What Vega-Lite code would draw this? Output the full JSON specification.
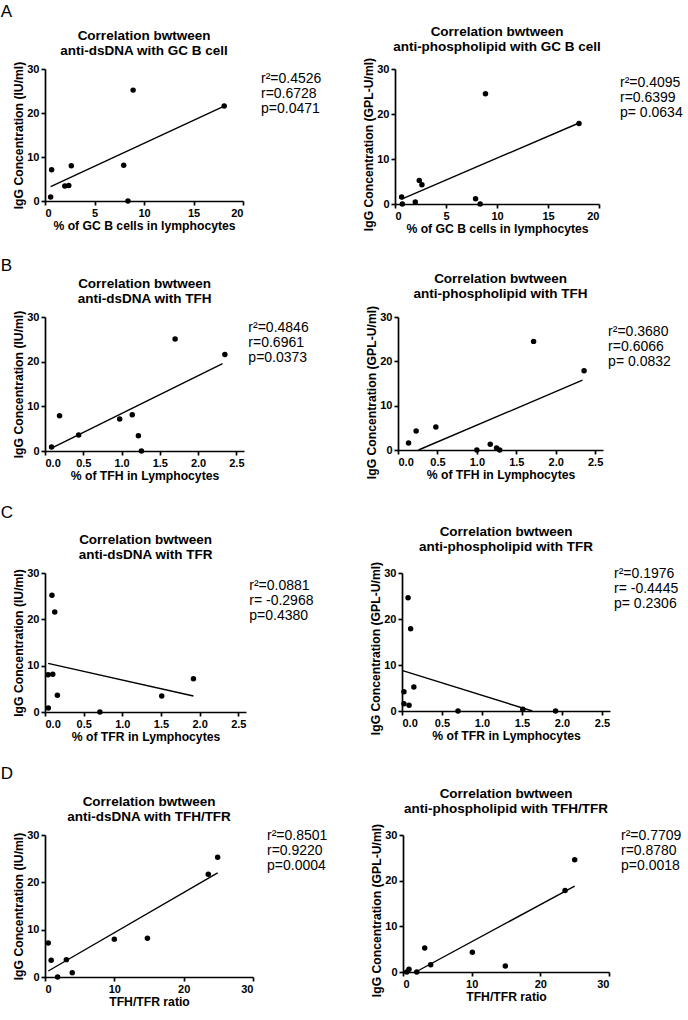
{
  "$schema": "https://vega.github.io/schema/vega-lite/v6.json",
  "padding": {"left": 0, "top": 2, "right": 0, "bottom": 0},
  "spacing": 22,
  "config": {
    "font": "Liberation Sans",
    "view": {"stroke": null},
    "axis": {"grid": false, "labelOverlap": false, "tickCount": 12, "domainColor": "black", "domainWidth": 1.7, "tickColor": "black", "tickWidth": 1.7, "tickSize": 4, "labelFont": "Liberation Sans", "labelFontSize": 11, "labelFontWeight": "bold", "labelColor": "black", "labelPadding": 2, "titleFont": "Liberation Sans", "titleFontSize": 12.2, "titleFontWeight": "bold", "titleColor": "black", "titlePadding": 1},
    "title": {"font": "Liberation Sans", "fontSize": 13.5, "fontWeight": "bold", "color": "black", "lineHeight": 15, "offset": 8, "frame": "group"},
    "text": {"font": "Liberation Sans", "fontSize": 14, "color": "black", "align": "left", "baseline": "top", "lineBreak": "\n", "lineHeight": 15},
    "circle": {"color": "black", "opacity": 1, "size": 30},
    "line": {"color": "black", "strokeWidth": 1.4}
  },
  "datasets": {
    "a1": [{"x": 0.57, "y": 0.9}, {"x": 0.67, "y": 7.1}, {"x": 2.0, "y": 3.4}, {"x": 2.4, "y": 3.5}, {"x": 2.66, "y": 8.0}, {"x": 7.95, "y": 8.15}, {"x": 8.38, "y": 0}, {"x": 8.9, "y": 25.2}, {"x": 18.1, "y": 21.6}],
    "a1l": [{"x": 0.57, "y": 3.27}, {"x": 18.1, "y": 21.55}],
    "a2": [{"x": 0.65, "y": 1.55}, {"x": 0.72, "y": 0}, {"x": 1.99, "y": 0.44}, {"x": 2.38, "y": 5.25}, {"x": 2.64, "y": 4.29}, {"x": 7.9, "y": 1.18}, {"x": 8.35, "y": 0}, {"x": 8.87, "y": 24.5}, {"x": 18.04, "y": 17.9}],
    "a2l": [{"x": 0.65, "y": 1.1}, {"x": 18.04, "y": 18.0}],
    "b1": [{"x": 0.086, "y": 0.9}, {"x": 0.19, "y": 7.9}, {"x": 0.44, "y": 3.6}, {"x": 0.976, "y": 7.16}, {"x": 1.14, "y": 8.13}, {"x": 1.22, "y": 3.43}, {"x": 1.26, "y": 0}, {"x": 1.7, "y": 25.1}, {"x": 2.35, "y": 21.6}],
    "b1l": [{"x": 0.086, "y": 0.67}, {"x": 2.32, "y": 19.55}],
    "b2": [{"x": 0.134, "y": 1.58}, {"x": 0.23, "y": 4.28}, {"x": 0.48, "y": 5.18}, {"x": 1.0, "y": 0}, {"x": 1.17, "y": 1.28}, {"x": 1.25, "y": 0.45}, {"x": 1.29, "y": 0}, {"x": 1.72, "y": 24.5}, {"x": 2.36, "y": 17.9}],
    "b2l": [{"x": 0.26, "y": 0}, {"x": 2.34, "y": 15.75}],
    "c1": [{"x": 0.04, "y": 8.06}, {"x": 0.043, "y": 0.86}, {"x": 0.09, "y": 25.2}, {"x": 0.1, "y": 8.13}, {"x": 0.126, "y": 21.6}, {"x": 0.16, "y": 3.6}, {"x": 0.71, "y": 0}, {"x": 1.51, "y": 3.45}, {"x": 1.92, "y": 7.19}],
    "c1l": [{"x": 0.04, "y": 10.5}, {"x": 1.92, "y": 3.45}],
    "c2": [{"x": 0.024, "y": 4.2}, {"x": 0.024, "y": 1.6}, {"x": 0.076, "y": 24.6}, {"x": 0.088, "y": 1.23}, {"x": 0.108, "y": 17.9}, {"x": 0.148, "y": 5.2}, {"x": 0.7, "y": 0}, {"x": 1.51, "y": 0.36}, {"x": 1.92, "y": 0}],
    "c2l": [{"x": 0.008, "y": 8.77}, {"x": 1.63, "y": 0}],
    "d1": [{"x": 0.47, "y": 7.2}, {"x": 0.89, "y": 3.53}, {"x": 1.82, "y": 0}, {"x": 3.08, "y": 3.67}, {"x": 3.93, "y": 0.92}, {"x": 10.0, "y": 8.0}, {"x": 14.77, "y": 8.2}, {"x": 23.55, "y": 21.7}, {"x": 24.9, "y": 25.3}],
    "d1l": [{"x": 0.47, "y": 1.27}, {"x": 24.9, "y": 22.0}],
    "d2": [{"x": 0.54, "y": 0}, {"x": 0.87, "y": 0.6}, {"x": 2.0, "y": 0}, {"x": 3.16, "y": 5.27}, {"x": 4.03, "y": 1.6}, {"x": 10.1, "y": 4.3}, {"x": 14.9, "y": 1.3}, {"x": 23.6, "y": 17.85}, {"x": 25.0, "y": 24.6}],
    "d2l": [{"x": 1.85, "y": 0}, {"x": 25.0, "y": 18.8}],
    "stats": [
      {"panel": "a1", "label": "r²=0.4526\nr=0.6728\np=0.0471"},
      {"panel": "a2", "label": "r²=0.4095\n r=0.6399\n p= 0.0634"},
      {"panel": "b1", "label": "r²=0.4846\nr=0.6961\np=0.0373"},
      {"panel": "b2", "label": "r²=0.3680\n r=0.6066\n p= 0.0832"},
      {"panel": "c1", "label": "r²=0.0881\nr= -0.2968\np=0.4380"},
      {"panel": "c2", "label": "r²=0.1976\nr= -0.4445\n p= 0.2306"},
      {"panel": "d1", "label": "r²=0.8501\nr=0.9220\np=0.0004"},
      {"panel": "d2", "label": "r²=0.7709\nr=0.8780\np=0.0018"}
    ]
  },
  "vconcat": [
    {
      "title": {"text": "A", "anchor": "start", "fontSize": 17, "fontWeight": "normal", "offset": 4, "dx": -12, "frame": "bounds"},
      "bounds": "flush", "spacing": 152,
      "hconcat": [
        {"width": 198, "height": 132, "title": {"text": ["Correlation bwtween", "anti-dsDNA with GC B cell"], "offset": 2.5},
         "layer": [
          {"data": {"name": "a1l"}, "mark": "line", "encoding": {"x": {"field": "x", "type": "quantitative", "title": "% of GC B cells in lymphocytes", "scale": {"domain": [0, 20]}, "axis": {"values": [0, 5, 10, 15, 20], "tickCount": 12, "labelOverlap": false}}, "y": {"field": "y", "type": "quantitative", "title": "IgG  Concentration (IU/ml)", "scale": {"domain": [0, 30]}, "axis": {"values": [0, 10, 20, 30], "tickCount": 12, "labelOverlap": false}}}},
          {"data": {"name": "a1"}, "mark": "circle", "encoding": {"x": {"field": "x", "type": "quantitative", "title": "% of GC B cells in lymphocytes"}, "y": {"field": "y", "type": "quantitative", "title": "IgG  Concentration (IU/ml)"}}},
          {"data": {"name": "stats"}, "transform": [{"filter": "datum.panel == 'a1'"}], "mark": {"type": "text", "dx": 18, "dy": 3}, "encoding": {"x": {"datum": 20, "title": "% of GC B cells in lymphocytes"}, "y": {"datum": 30, "title": "IgG  Concentration (IU/ml)"}, "text": {"field": "label"}}}
         ]},
        {"width": 204, "height": 135, "title": {"text": ["Correlation bwtween", "anti-phospholipid with GC B cell"], "offset": 2.5},
         "layer": [
          {"data": {"name": "a2l"}, "mark": "line", "encoding": {"x": {"field": "x", "type": "quantitative", "title": "% of GC B cells in lymphocytes", "scale": {"domain": [0, 20]}, "axis": {"values": [0, 5, 10, 15, 20], "tickCount": 12, "labelOverlap": false}}, "y": {"field": "y", "type": "quantitative", "title": "IgG  Concentration (GPL-U/ml)", "scale": {"domain": [0, 30]}, "axis": {"values": [0, 10, 20, 30], "tickCount": 12, "titleY": 75, "labelOverlap": false}}}},
          {"data": {"name": "a2"}, "mark": "circle", "encoding": {"x": {"field": "x", "type": "quantitative", "title": "% of GC B cells in lymphocytes"}, "y": {"field": "y", "type": "quantitative", "title": "IgG  Concentration (GPL-U/ml)"}}},
          {"data": {"name": "stats"}, "transform": [{"filter": "datum.panel == 'a2'"}], "mark": {"type": "text", "dx": 21, "dy": 7}, "encoding": {"x": {"datum": 20, "title": "% of GC B cells in lymphocytes"}, "y": {"datum": 30, "title": "IgG  Concentration (GPL-U/ml)"}, "text": {"field": "label"}}}
         ]}
      ]
    },
    {
      "title": {"text": "B", "anchor": "start", "fontSize": 17, "fontWeight": "normal", "offset": -3, "dx": -12, "frame": "bounds"},
      "bounds": "flush", "spacing": 154,
      "hconcat": [
        {"width": 199, "height": 134, "title": {"text": ["Correlation bwtween", "anti-dsDNA with TFH"], "offset": 3},
         "layer": [
          {"data": {"name": "b1l"}, "mark": "line", "encoding": {"x": {"field": "x", "type": "quantitative", "title": "% of TFH in Lymphocytes", "scale": {"domain": [0, 2.5]}, "axis": {"values": [0, 0.5, 1, 1.5, 2, 2.5], "tickCount": 12, "format": ".1f", "labelOverlap": false}}, "y": {"field": "y", "type": "quantitative", "title": "IgG  Concentration (IU/ml)", "scale": {"domain": [0, 30]}, "axis": {"values": [0, 10, 20, 30], "tickCount": 12, "labelOverlap": false}}}},
          {"data": {"name": "b1"}, "mark": "circle", "encoding": {"x": {"field": "x", "type": "quantitative", "title": "% of TFH in Lymphocytes"}, "y": {"field": "y", "type": "quantitative", "title": "IgG  Concentration (IU/ml)"}}},
          {"data": {"name": "stats"}, "transform": [{"filter": "datum.panel == 'b1'"}], "mark": {"type": "text", "dx": 12, "dy": 4}, "encoding": {"x": {"datum": 2.5, "title": "% of TFH in Lymphocytes"}, "y": {"datum": 30, "title": "IgG  Concentration (IU/ml)"}, "text": {"field": "label"}}}
         ]},
        {"width": 205, "height": 133, "title": {"text": ["Correlation bwtween", "anti-phospholipid with TFH"], "offset": 3},
         "layer": [
          {"data": {"name": "b2l"}, "mark": "line", "encoding": {"x": {"field": "x", "type": "quantitative", "title": "% of TFH in Lymphocytes", "scale": {"domain": [0, 2.5]}, "axis": {"values": [0, 0.5, 1, 1.5, 2, 2.5], "tickCount": 12, "format": ".1f", "labelOverlap": false}}, "y": {"field": "y", "type": "quantitative", "title": "IgG  Concentration (GPL-U/ml)", "scale": {"domain": [0, 30]}, "axis": {"values": [0, 10, 20, 30], "tickCount": 12, "titleY": 75, "labelOverlap": false}}}},
          {"data": {"name": "b2"}, "mark": "circle", "encoding": {"x": {"field": "x", "type": "quantitative", "title": "% of TFH in Lymphocytes"}, "y": {"field": "y", "type": "quantitative", "title": "IgG  Concentration (GPL-U/ml)"}}},
          {"data": {"name": "stats"}, "transform": [{"filter": "datum.panel == 'b2'"}], "mark": {"type": "text", "dx": 13, "dy": 8}, "encoding": {"x": {"datum": 2.5, "title": "% of TFH in Lymphocytes"}, "y": {"datum": 30, "title": "IgG  Concentration (GPL-U/ml)"}, "text": {"field": "label"}}}
         ]}
      ]
    },
    {
      "title": {"text": "C", "anchor": "start", "fontSize": 17, "fontWeight": "normal", "offset": 3, "dx": -12, "frame": "bounds"},
      "bounds": "flush", "spacing": 156,
      "hconcat": [
        {"width": 201, "height": 139, "title": {"text": ["Correlation bwtween", "anti-dsDNA with TFR"], "offset": 6},
         "layer": [
          {"data": {"name": "c1l"}, "mark": "line", "encoding": {"x": {"field": "x", "type": "quantitative", "title": "% of TFR in Lymphocytes", "scale": {"domain": [0, 2.5]}, "axis": {"values": [0, 0.5, 1, 1.5, 2, 2.5], "tickCount": 12, "format": ".1f", "labelOverlap": false}}, "y": {"field": "y", "type": "quantitative", "title": "IgG  Concentration (IU/ml)", "scale": {"domain": [0, 30]}, "axis": {"values": [0, 10, 20, 30], "tickCount": 12, "labelOverlap": false}}}},
          {"data": {"name": "c1"}, "mark": "circle", "encoding": {"x": {"field": "x", "type": "quantitative", "title": "% of TFR in Lymphocytes"}, "y": {"field": "y", "type": "quantitative", "title": "IgG  Concentration (IU/ml)"}}},
          {"data": {"name": "stats"}, "transform": [{"filter": "datum.panel == 'c1'"}], "mark": {"type": "text", "dx": 11, "dy": 6}, "encoding": {"x": {"datum": 2.5, "title": "% of TFR in Lymphocytes"}, "y": {"datum": 30, "title": "IgG  Concentration (IU/ml)"}, "text": {"field": "label"}}}
         ]},
        {"width": 208, "height": 138, "title": {"text": ["Correlation bwtween", "anti-phospholipid with TFR"], "offset": 6},
         "layer": [
          {"data": {"name": "c2l"}, "mark": "line", "encoding": {"x": {"field": "x", "type": "quantitative", "title": "% of TFR in Lymphocytes", "scale": {"domain": [0, 2.5]}, "axis": {"values": [0, 0.5, 1, 1.5, 2, 2.5], "tickCount": 12, "format": ".1f", "labelOverlap": false}}, "y": {"field": "y", "type": "quantitative", "title": "IgG  Concentration (GPL-U/ml)", "scale": {"domain": [0, 30]}, "axis": {"values": [0, 10, 20, 30], "tickCount": 12, "titleY": 75, "labelOverlap": false}}}},
          {"data": {"name": "c2"}, "mark": "circle", "encoding": {"x": {"field": "x", "type": "quantitative", "title": "% of TFR in Lymphocytes"}, "y": {"field": "y", "type": "quantitative", "title": "IgG  Concentration (GPL-U/ml)"}}},
          {"data": {"name": "stats"}, "transform": [{"filter": "datum.panel == 'c2'"}], "mark": {"type": "text", "dx": 12, "dy": -6}, "encoding": {"x": {"datum": 2.5, "title": "% of TFR in Lymphocytes"}, "y": {"datum": 30, "title": "IgG  Concentration (GPL-U/ml)"}, "text": {"field": "label"}}}
         ]}
      ]
    },
    {
      "title": {"text": "D", "anchor": "start", "fontSize": 17, "fontWeight": "normal", "offset": 4, "dx": -12, "frame": "bounds"},
      "bounds": "flush", "spacing": 150,
      "hconcat": [
        {"width": 208, "height": 142, "title": {"text": ["Correlation bwtween", "anti-dsDNA with TFH/TFR"], "offset": 6},
         "layer": [
          {"data": {"name": "d1l"}, "mark": "line", "encoding": {"x": {"field": "x", "type": "quantitative", "title": "TFH/TFR ratio", "scale": {"domain": [0, 30]}, "axis": {"values": [0, 10, 20, 30], "tickCount": 12, "labelOverlap": false}}, "y": {"field": "y", "type": "quantitative", "title": "IgG  Concentration (IU/ml)", "scale": {"domain": [0, 30]}, "axis": {"values": [0, 10, 20, 30], "tickCount": 12, "labelOverlap": false}}}},
          {"data": {"name": "d1"}, "mark": "circle", "encoding": {"x": {"field": "x", "type": "quantitative", "title": "TFH/TFR ratio"}, "y": {"field": "y", "type": "quantitative", "title": "IgG  Concentration (IU/ml)"}}},
          {"data": {"name": "stats"}, "transform": [{"filter": "datum.panel == 'd1'"}], "mark": {"type": "text", "dx": 14, "dy": -6}, "encoding": {"x": {"datum": 30, "title": "TFH/TFR ratio"}, "y": {"datum": 30, "title": "IgG  Concentration (IU/ml)"}, "text": {"field": "label"}}}
         ]},
        {"width": 206, "height": 137, "title": {"text": ["Correlation bwtween", "anti-phospholipid with TFH/TFR"], "offset": 6},
         "layer": [
          {"data": {"name": "d2l"}, "mark": "line", "encoding": {"x": {"field": "x", "type": "quantitative", "title": "TFH/TFR ratio", "scale": {"domain": [0, 30]}, "axis": {"values": [0, 10, 20, 30], "tickCount": 12, "labelOverlap": false}}, "y": {"field": "y", "type": "quantitative", "title": "IgG  Concentration (GPL-U/ml)", "scale": {"domain": [0, 30]}, "axis": {"values": [0, 10, 20, 30], "tickCount": 12, "titleY": 75, "labelOverlap": false}}}},
          {"data": {"name": "d2"}, "mark": "circle", "encoding": {"x": {"field": "x", "type": "quantitative", "title": "TFH/TFR ratio"}, "y": {"field": "y", "type": "quantitative", "title": "IgG  Concentration (GPL-U/ml)"}}},
          {"data": {"name": "stats"}, "transform": [{"filter": "datum.panel == 'd2'"}], "mark": {"type": "text", "dx": 12, "dy": -6}, "encoding": {"x": {"datum": 30, "title": "TFH/TFR ratio"}, "y": {"datum": 30, "title": "IgG  Concentration (GPL-U/ml)"}, "text": {"field": "label"}}}
         ]}
      ]
    }
  ]
}
